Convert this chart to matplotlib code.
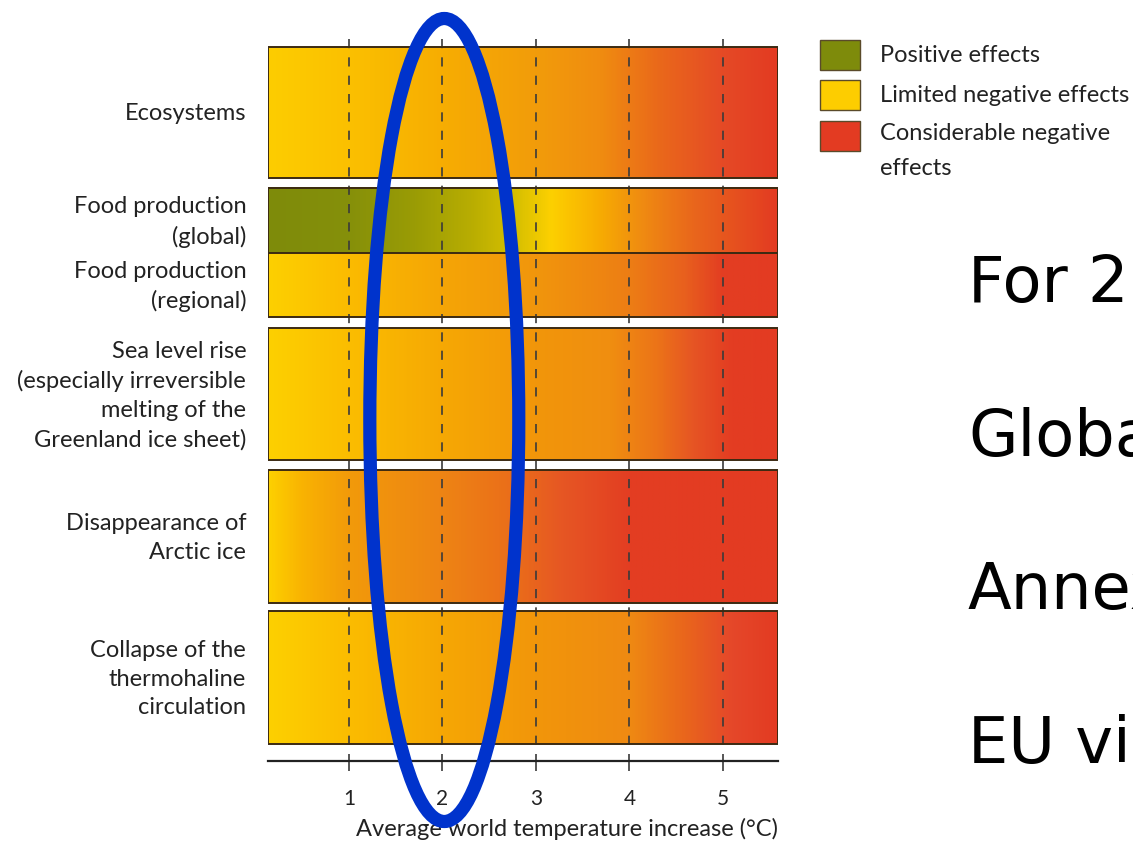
import numpy as np
import matplotlib
matplotlib.use('Agg')
import matplotlib.pyplot as plt
from matplotlib.colors import LinearSegmentedColormap, Normalize
from matplotlib.patches import Rectangle, Ellipse

plt.rcParams['font.family'] = ['Lato', 'DejaVu Sans']

# temperature axis (deg C)
XMIN, XMAX = 0.134, 5.59
ticks = [1, 2, 3, 4, 5]

# row labels
labels = ['Ecosystems',
          'Food production\n(global)',
          'Food production\n(regional)',
          'Sea level rise\n(especially irreversible\nmelting of the\nGreenland ice sheet)',
          'Disappearance of\nArctic ice',
          'Collapse of the\nthermohaline\ncirculation']

# colour stops per row: temperature -> colour
eco_t = [XMIN, 1.0, 2.0, 3.0, 3.7, 4.3, 5.0, XMAX]
eco_c = ['#fdcd00', '#fbc000', '#f7ad02', '#f29c0a', '#f08c10', '#ea6a1a', '#e54a26', '#e33b22']

glob_t = [XMIN, 1.0, 1.7, 2.3, 2.8, 3.17, 3.7, 4.1, 4.7, XMAX]
glob_c = ['#7e8b0b', '#86900a', '#9a9c05', '#b8ad02', '#d8c000', '#fdd000', '#f7ab02', '#f08e10', '#e9661c', '#e33b22']

reg_t = [XMIN, 1.0, 2.0, 3.0, 4.0, 4.6, 5.0, XMAX]
reg_c = ['#fdd000', '#fbbb00', '#f5a506', '#f1960c', '#ed7e14', '#e8601e', '#e33e22', '#e33b22']

sea_t = [XMIN, 1.0, 2.0, 3.0, 3.8, 4.3, 4.7, 5.1, XMAX]
sea_c = ['#fdd000', '#fbbd00', '#f6a804', '#f2960a', '#f08e10', '#ec7418', '#e65424', '#e33d22', '#e33b22']

arc_t = [XMIN, 0.5, 1.0, 2.0, 2.8, 3.3, 4.0, XMAX]
arc_c = ['#fdd000', '#f9b202', '#f29a0a', '#ee8414', '#ea6c1a', '#e65624', '#e33e22', '#e33b22']

thc_t = [XMIN, 1.0, 2.0, 3.0, 4.0, 4.6, 5.1, XMAX]
thc_c = ['#fdd000', '#fbbc00', '#f6a704', '#f2960a', '#ef8a12', '#e9661c', '#e5482a', '#e33b22']

stops = [(eco_t, eco_c), (glob_t, glob_c), (reg_t, reg_c),
         (sea_t, sea_c), (arc_t, arc_c), (thc_t, thc_c)]

legend_labels = ['Positive effects', 'Limited negative effects', 'Considerable negative\neffects']
legend_colors = ['#7e8b0b', '#fdcd00', '#e33b22']

right_lines = ['For 2', 'Globa', 'Annex', 'EU vi']

# layout (pixel rows of the original picture)
row_top = [47, 188, 253, 328, 470, 611]
row_bot = [178, 253, 317, 460, 603, 744]
boxes = [(47, 178), (188, 317), (328, 460), (470, 603), (611, 744)]
W, H = 1133, 847
Y_TOP, Y_AXIS = 39, 761
FS = 17

fig = plt.figure(figsize=(W / 100, H / 100), dpi=100)
ax = fig.add_axes([268 / W, (H - Y_AXIS) / H, 510 / W, (Y_AXIS - Y_TOP) / H])

edge = '#3b2a12'
grad = np.linspace(XMIN, XMAX, 600).reshape(1, -1)
norm = Normalize(XMIN, XMAX)
for (t, c), top, bot in zip(stops, row_top, row_bot):
    pos = [(v - XMIN) / (XMAX - XMIN) for v in t]
    cmap = LinearSegmentedColormap.from_list('row', list(zip(pos, c)))
    ax.imshow(grad, extent=(XMIN, XMAX, bot, top), aspect='auto', cmap=cmap, norm=norm,
              interpolation='bilinear', zorder=1)

for top, bot in boxes:
    ax.add_patch(Rectangle((XMIN, top), XMAX - XMIN, bot - top, fill=False,
                           edgecolor=edge, lw=1.4, zorder=3))
ax.hlines(row_top[2], XMIN, XMAX, color=edge, lw=1.4, zorder=3)

ax.vlines(ticks, Y_TOP, Y_AXIS, colors='#3a3a3a', lw=1.2, linestyles=(0, (5.5, 5.5)), zorder=2)

ax.set_xlim(XMIN, XMAX)
ax.set_ylim(Y_AXIS, Y_TOP)
for s in ['top', 'left', 'right']:
    ax.spines[s].set_visible(False)
ax.spines['bottom'].set_linewidth(1.6)
ax.spines['bottom'].set_color('#222222')
ax.set_yticks([])
ax.set_xticks(ticks)
ax.set_xticklabels([str(v) for v in ticks], fontsize=15, color='#222222')
ax.tick_params(axis='x', direction='out', length=7, width=1.2, color='#3a3a3a', pad=13)
ax.text(XMAX, 829, 'Average world temperature increase (\u00b0C)', ha='right', va='center',
        fontsize=FS, color='#222222')

# row labels
for lab, top, bot in zip(labels, row_top, row_bot):
    ax.text(-0.1, (top + bot) / 2 + 1.5, lab, ha='right', va='center', fontsize=FS,
            color='#222222', linespacing=1.46, clip_on=False, zorder=5)

# legend
for i, (lab, col) in enumerate(zip(legend_labels, legend_colors)):
    y0 = 40 + i * 40.5
    fig.add_artist(Rectangle((820 / W, 1 - (y0 + 30) / H), 40 / W, 30 / H,
                             facecolor=col, edgecolor='#5a4a2a', lw=1.0,
                             transform=fig.transFigure))
    if '\n' in lab:
        fig.text(880 / W, 1 - (y0 + 2) / H, lab, ha='left', va='top',
                 fontsize=FS, color='#222222', linespacing=1.85)
    else:
        fig.text(880 / W, 1 - (y0 + 15) / H, lab, ha='left', va='center',
                 fontsize=FS, color='#222222')

# blue ellipse around 2 degrees
ax.add_patch(Ellipse((2.02, 420), 149 / 93.5, 803, fill=False, edgecolor='#0033cc',
                     lw=9.5, clip_on=False, zorder=6))

# slide text, cut at the right edge as in the original slide
for i, s in enumerate(right_lines):
    fig.text(968 / W, 1 - (302 + i * 153.5) / H, s, ha='left', va='baseline',
             fontsize=46, color='black', family='DejaVu Sans')

fig.savefig('out.png', dpi=100)
